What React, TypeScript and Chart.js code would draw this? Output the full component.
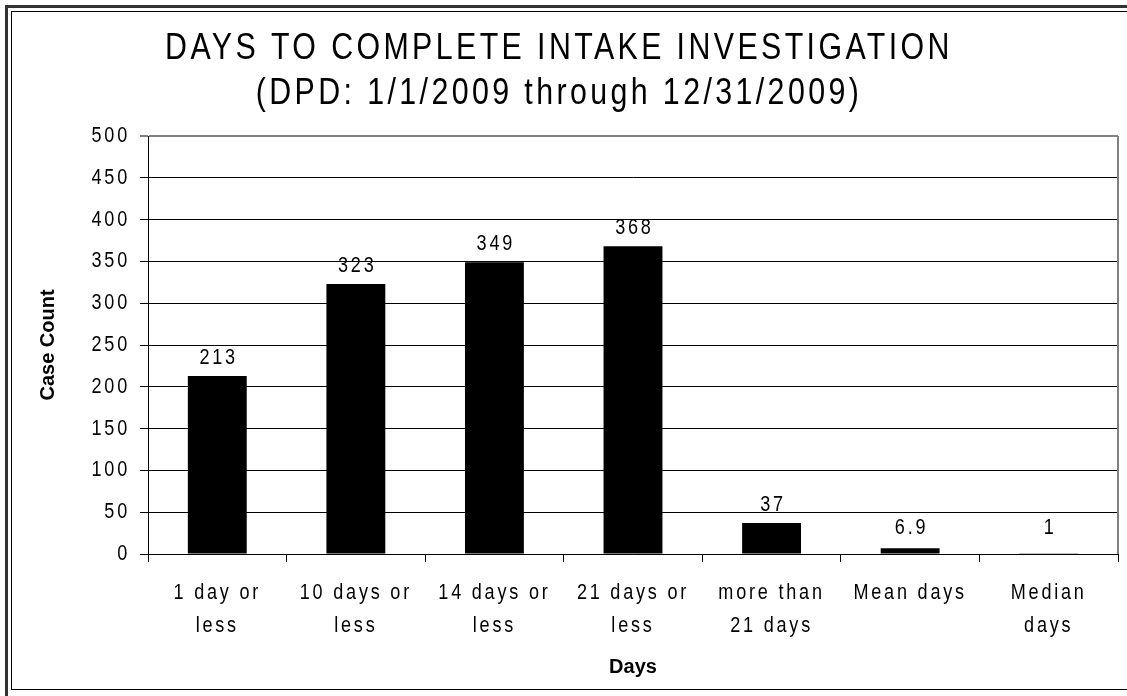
import { useEffect, useRef } from "react";
import { Chart, registerables } from "chart.js";

Chart.register(...registerables);

const titleLines = ["DAYS TO COMPLETE INTAKE INVESTIGATION", "(DPD: 1/1/2009 through 12/31/2009)"];
const categories = [
  ["1 day or", "less"],
  ["10 days or", "less"],
  ["14 days or", "less"],
  ["21 days or", "less"],
  ["more than", "21 days"],
  ["Mean days"],
  ["Median", "days"],
];
const values = [213, 323, 349, 368, 37, 6.9, 1];
const yMin = 0;
const yMax = 500;
const yStep = 50;
const yTitle = "Case Count";
const xTitle = "Days";

const FONT = '"Liberation Sans", Arial, sans-serif';

export default function App() {
  const ref = useRef<HTMLCanvasElement | null>(null);

  useEffect(() => {
    document.body.style.margin = "0";
    const canvas = ref.current!;
    const ctx2d = canvas.getContext("2d")!;
    const origFill = ctx2d.fillText.bind(ctx2d);
    // emulate the condensed, letter-spaced face of the original
    (ctx2d as any).fillText = (t: string, x: number, y: number) => {
      const f = ctx2d.font;
      if (/bold|700/.test(f)) {
        origFill(t, x, y);
        return;
      }
      const m = /(\d+(?:\.\d+)?)px/.exec(f);
      const size = m ? parseFloat(m[1]) : 12;
      const sc = 0.82;
      const sp = size >= 30 ? 3.4 : 2.8;
      ctx2d.save();
      ctx2d.translate(x, y);
      ctx2d.scale(sc, 1);
      (ctx2d as any).letterSpacing = sp / sc + "px";
      origFill(t, 0, 0);
      ctx2d.restore();
    };

    const valueLabels = {
      id: "valueLabels",
      afterDatasetsDraw(chart: any) {
        const { ctx } = chart;
        const meta = chart.getDatasetMeta(0);
        const base = chart.scales.y.getPixelForValue(0);
        ctx.save();
        ctx.font = `22px ${FONT}`;
        ctx.fillStyle = "#000";
        ctx.textAlign = "center";
        ctx.textBaseline = "alphabetic";
        meta.data.forEach((el: any, i: number) => {
          const y = Math.min(el.y - 12, base - 20);
          ctx.fillText(String(values[i]), el.x + 1.4, y);
        });
        ctx.restore();
      },
    };

    const plotBorder = {
      id: "plotBorder",
      beforeDatasetsDraw(chart: any) {
        const { ctx, chartArea } = chart;
        ctx.save();
        ctx.strokeStyle = "#808080";
        ctx.lineWidth = 2;
        ctx.beginPath();
        ctx.moveTo(chartArea.right, chartArea.top);
        ctx.lineTo(chartArea.right, chartArea.bottom);
        ctx.stroke();
        ctx.restore();
      },
    };

    const chart = new Chart(canvas, {
      type: "bar",
      data: {
        labels: categories,
        datasets: [
          {
            data: values,
            backgroundColor: "#000",
            borderColor: "#000",
            borderWidth: 0,
            barPercentage: 0.425,
            categoryPercentage: 1,
          },
        ],
      },
      options: {
        responsive: false,
        animation: false,
        devicePixelRatio: 1,
        layout: { padding: { left: 0, right: 9, top: 0, bottom: 0 } },
        plugins: {
          legend: { display: false },
          tooltip: { enabled: false },
          title: {
            display: true,
            text: titleLines,
            color: "#000",
            font: { family: FONT, size: 37, weight: "normal", lineHeight: 1.2 },
            padding: { top: 27, bottom: 20.2 },
          },
        },
        scales: {
          x: {
            offset: true,
            grid: {
              offset: true,
              drawOnChartArea: false,
              drawTicks: true,
              tickLength: 8,
              color: "#000",
              lineWidth: 1,
            },
            border: { display: true, color: "#000", width: 1 },
            ticks: {
              color: "#000",
              font: { family: FONT, size: 22, lineHeight: 1.5 },
              padding: 14,
              maxRotation: 0,
              autoSkip: false,
            },
            title: {
              display: true,
              text: xTitle,
              color: "#000",
              font: { family: FONT, size: 20, weight: "bold", lineHeight: 1.2 },
              padding: { top: 0, bottom: 17 },
            },
            afterFit: (s: any) => {
              s.height = 142;
            },
          },
          y: {
            min: yMin,
            max: yMax,
            ticks: {
              stepSize: yStep,
              color: "#000",
              font: { family: FONT, size: 22 },
              padding: 10,
            },
            grid: {
              color: (c: any) => (c.tick && c.tick.value === yMax ? "#808080" : "#000"),
              lineWidth: (c: any) => (c.tick && c.tick.value === yMax ? 2 : 1),
              tickLength: 8,
              drawTicks: true,
            },
            border: { display: true, color: "#000", width: 1 },
            title: {
              display: true,
              text: yTitle,
              color: "#000",
              font: { family: FONT, size: 20, weight: "bold", lineHeight: 1.2 },
              padding: { top: 36, bottom: 0 },
            },
            afterFit: (s: any) => {
              s.width = 148;
            },
          },
        },
      },
      plugins: [plotBorder, valueLabels],
    } as any);

    return () => {
      chart.destroy();
    };
  }, []);

  return (
    <div style={{ position: "fixed", left: 0, top: 0, width: 1127, height: 696, background: "#fff", overflow: "hidden" }}>
      <canvas ref={ref} width={1127} height={696} style={{ position: "absolute", left: 0, top: 0, width: 1127, height: 696 }} />
      <div
        style={{
          position: "absolute",
          left: 5,
          top: 5,
          width: 1200,
          height: 800,
          borderLeft: "3px solid #333",
          borderTop: "3px solid #333",
          pointerEvents: "none",
        }}
      />
      <div
        style={{
          position: "absolute",
          left: 11,
          top: 11,
          width: 1200,
          height: 677,
          borderLeft: "1px solid #000",
          borderTop: "1px solid #000",
          borderBottom: "1px solid #000",
          pointerEvents: "none",
        }}
      />
    </div>
  );
}
